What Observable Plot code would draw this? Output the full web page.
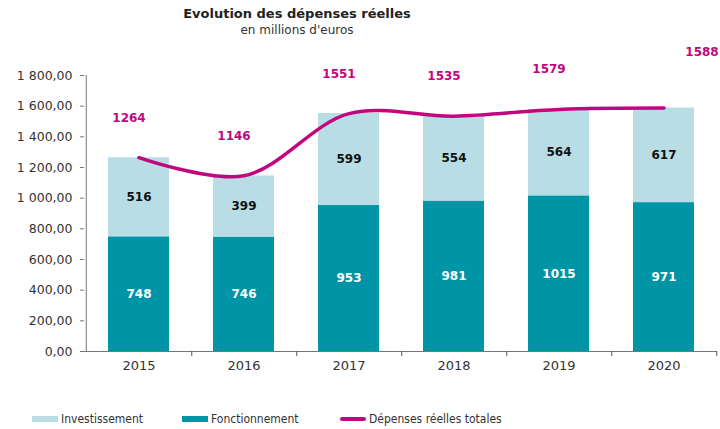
<!DOCTYPE html>
<html>
<head>
<meta charset="utf-8">
<script src="https://cdn.jsdelivr.net/npm/d3@7"></script>
<script src="https://cdn.jsdelivr.net/npm/@observablehq/plot@0.6"></script>
<style>
  body { margin: 0; background: #fff; }
  #wrap { position: relative; width: 720px; height: 429px; overflow: hidden; font-family: "DejaVu Sans", sans-serif; }
  #title { position: absolute; left: 0; width: 594px; top: 6px; text-align: center; font-weight: bold; font-size: 13px; color: #222; }
  #subtitle { position: absolute; left: 0; width: 594px; top: 23px; text-align: center; font-size: 12px; color: #333; }
  #chart { position: absolute; left: 0; top: 0; }
  .leg { position: absolute; top: 412px; font-family: "Liberation Sans Narrow", "DejaVu Sans Condensed", sans-serif; font-size: 12px; color: #333; display: flex; align-items: center; }
  .sw { display: inline-block; width: 26px; margin-right: 3px; }
</style>
</head>
<body>
<div id="wrap">
  <div id="chart"></div>
  <div id="title">Evolution des dépenses réelles</div>
  <div id="subtitle">en millions d'euros</div>
  <div class="leg" style="left:32px"><span class="sw" style="height:6px;background:#b8dde5"></span>Investissement</div>
  <div class="leg" style="left:182px"><span class="sw" style="height:6px;background:#0094a7"></span>Fonctionnement</div>
  <div class="leg" style="left:340px"><span class="sw" style="height:4px;background:#c2077e;border-radius:2px"></span>Dépenses réelles totales</div>
</div>
<script>
const years = ["2015", "2016", "2017", "2018", "2019", "2020"];
const fonctionnement = [748, 746, 953, 981, 1015, 971];
const investissement = [516, 399, 599, 554, 564, 617];
const totals = [1264, 1146, 1551, 1535, 1579, 1588];
const yTicks = [0, 200, 400, 600, 800, 1000, 1200, 1400, 1600, 1800];

const cLight = "#b8dde5", cTeal = "#0094a7", cMag = "#c2077e";

const rows = years.flatMap((year, i) => [
  {year, type: "Fonctionnement", value: fonctionnement[i], mid: fonctionnement[i] / 2},
  {year, type: "Investissement", value: investissement[i], mid: fonctionnement[i] + investissement[i] / 2}
]);
const totalRows = years.map((year, i) => ({year, total: totals[i]}));

const W = 720, H = 385, mL = 84, mR = 3, mT = 75, mB = 34;
const step = (W - mL - mR) / years.length;

const frFmt = d => d3.format(",.2f")(d).replace(/,/g, " ").replace(".", ",");

const plot = Plot.plot({
  width: W, height: H,
  marginLeft: mL, marginRight: mR, marginTop: mT, marginBottom: mB,
  style: {fontFamily: "DejaVu Sans, sans-serif", background: "white"},
  x: {domain: years, paddingInner: 0.42, paddingOuter: 0.21, label: null},
  y: {domain: [0, 1800], label: null},
  color: {domain: ["Fonctionnement", "Investissement"], range: [cTeal, cLight]},
  marks: [
    Plot.barY(rows, Plot.stackY({x: "year", y: "value", fill: "type", order: ["Fonctionnement", "Investissement"]})),
    Plot.text(rows.filter(d => d.type === "Fonctionnement"), {x: "year", y: "mid", text: d => String(d.value), fill: "white", fontWeight: "bold", fontSize: 12}),
    Plot.text(rows.filter(d => d.type === "Investissement"), {x: "year", y: "mid", text: d => String(d.value), fill: "#111", fontWeight: "bold", fontSize: 12}),
    Plot.line(totalRows, {x: "year", y: "total", curve: "catmull-rom", stroke: cMag, strokeWidth: 3.5}),
    Plot.text(totalRows.slice(0, 5), {x: "year", y: "total", text: d => String(d.total), dx: -10, dy: -40, fill: cMag, fontWeight: "bold", fontSize: 12}),
    Plot.text(totalRows.slice(5), {x: "year", y: "total", text: d => String(d.total), dx: 38, dy: -56, fill: cMag, fontWeight: "bold", fontSize: 12}),
    Plot.ruleY([0], {stroke: "#777"}),
    Plot.ruleX([years[0]], {x: d => d, y1: 0, y2: 1800, dx: -step / 2, stroke: "#777"}),
    Plot.ruleX(years, {x: d => d, y1: 0, y2: 0, dx: step / 2, insetBottom: -5, stroke: "#555"}),
    Plot.axisY({ticks: yTicks, tickFormat: frFmt, tickSize: 4, tickPadding: 8, fontSize: 12.5, fill: "#333", stroke: "#777"}),
    Plot.axisX({tickSize: 0, tickPadding: 9, fontSize: 13, fill: "#333"})
  ]
});
document.getElementById("chart").appendChild(plot);
</script>
</body>
</html>
